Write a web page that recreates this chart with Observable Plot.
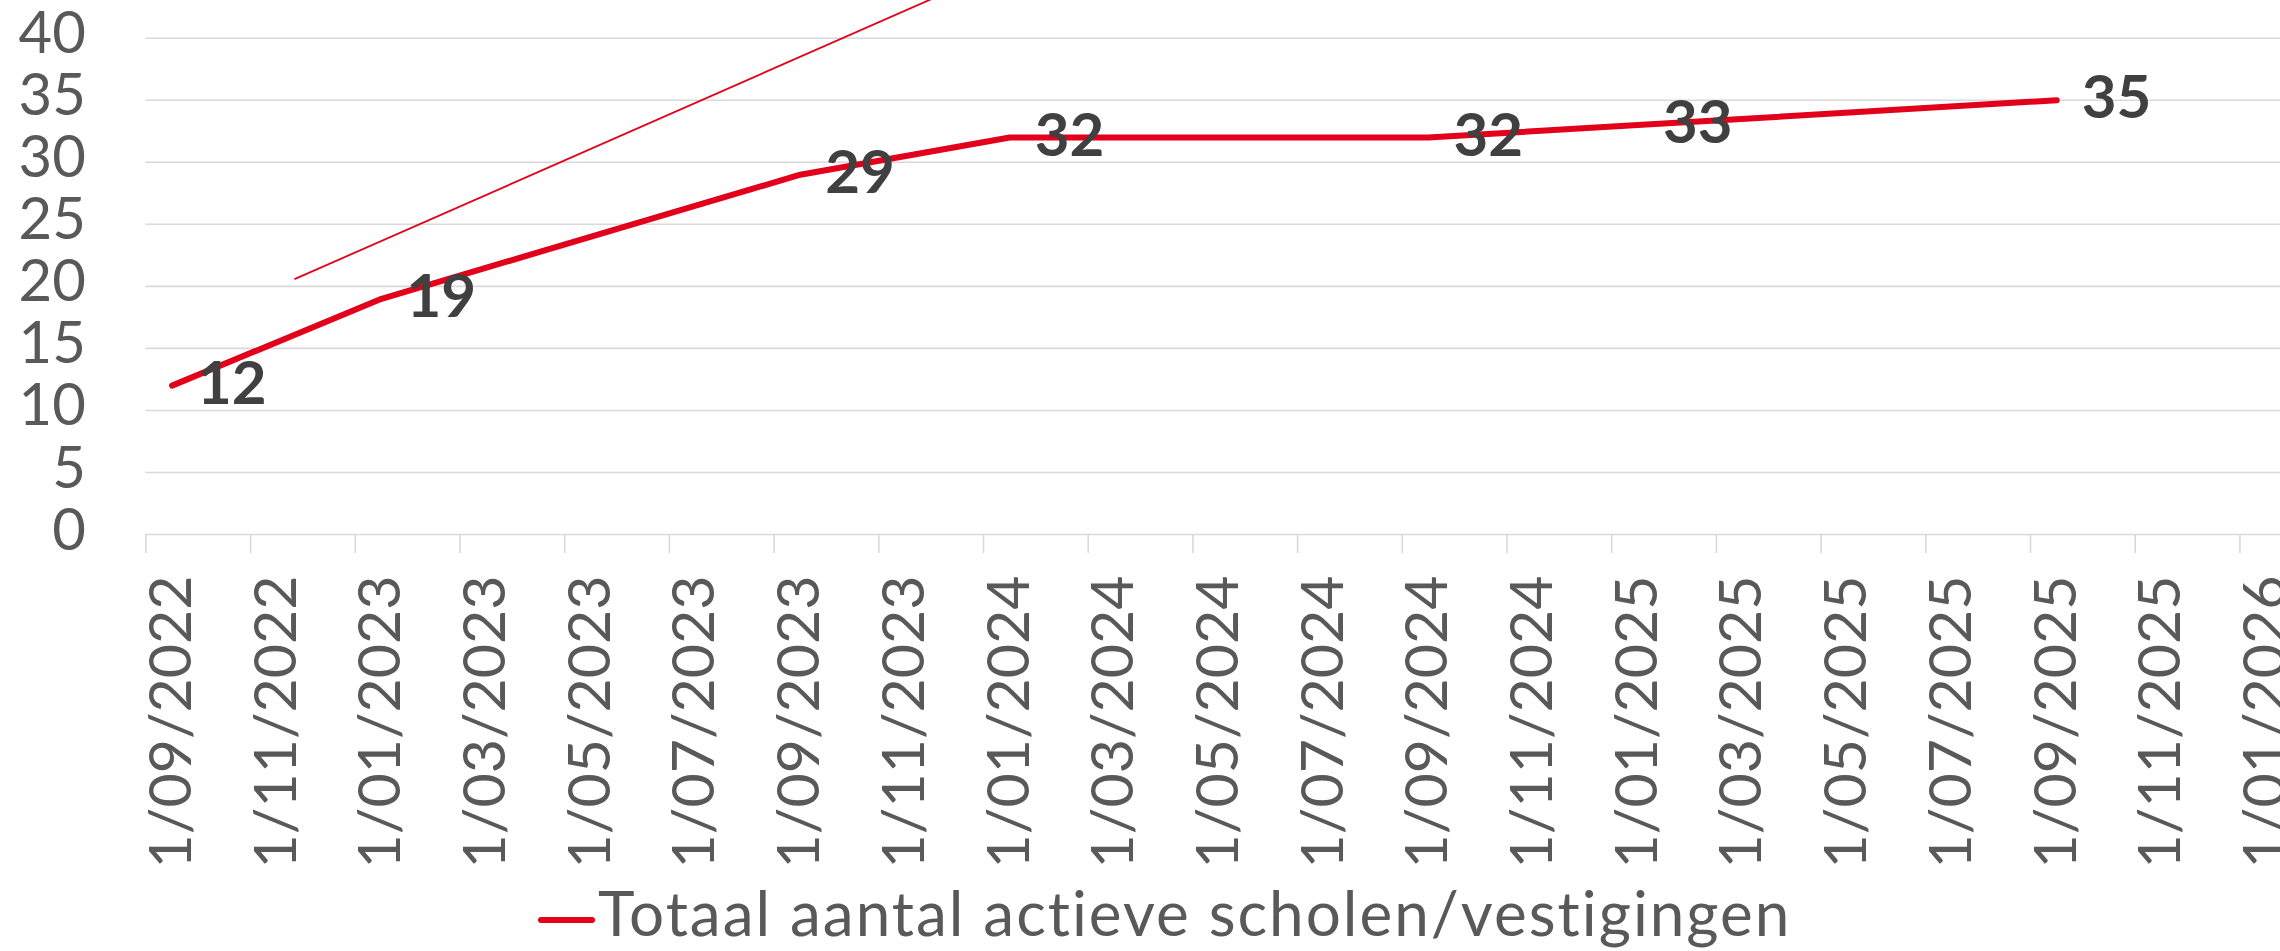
<!DOCTYPE html>
<html>
<head>
<meta charset="utf-8">
<script src="https://cdn.jsdelivr.net/npm/d3@7"></script>
<script src="https://cdn.jsdelivr.net/npm/@observablehq/plot@0.6"></script>
<style>
  html, body { margin: 0; padding: 0; background: #fff; overflow: hidden; width: 2280px; height: 951px; }
  #legend { position: relative; height: 81px; width: 2280px; font-family: Lato, sans-serif; }
  #legend .sw { position: absolute; left: 538px; top: 47px; width: 57px; height: 6px; border-radius: 3px; background: #e2001a; }
  #legend .lb { position: absolute; left: 598px; top: 11px; font-size: 62px; line-height: 1; letter-spacing: 2px; color: #595959; white-space: nowrap; }
</style>
</head>
<body>
<div id="chart"></div>
<div id="legend"><span class="sw"></span><span class="lb" id="legendText"></span></div>
<script>
// ---- data ----
const seriesName = "Totaal aantal actieve scholen/vestigingen";
const dates = ["1/09/2022", "1/01/2023", "1/09/2023", "1/01/2024", "1/09/2024", "1/01/2025", "1/09/2025"];
const values = [12, 19, 29, 32, 32, 33, 35];
const tickLabels = ["1/09/2022", "1/11/2022", "1/01/2023", "1/03/2023", "1/05/2023", "1/07/2023",
  "1/09/2023", "1/11/2023", "1/01/2024", "1/03/2024", "1/05/2024", "1/07/2024", "1/09/2024",
  "1/11/2024", "1/01/2025", "1/03/2025", "1/05/2025", "1/07/2025", "1/09/2025", "1/11/2025", "1/01/2026"];
const yTicks = [0, 5, 10, 15, 20, 25, 30, 35, 40];
// thin trend line (months after 1/09/2022, value)
const trendMonths = [2.85, 16.0];
const trendValues = [20.6, 45.0];

// ---- helpers ----
function monthIndex(s) {
  const [d, m, y] = s.split("/").map(Number);
  return (y - 2022) * 12 + (m - 9);
}
const red = "#e2001a";
const data = dates.map((d, i) => ({date: d, m: monthIndex(d) + 0.5, v: values[i]}));
const ticks = tickLabels.map(t => monthIndex(t)).concat([42]);
const labels = tickLabels.map(t => ({t, m: monthIndex(t) + 0.5}));
const trend = trendMonths.map((m, i) => ({m, v: trendValues[i]}));

const chart = Plot.plot({
  width: 2280,
  height: 870,
  marginLeft: 145.4,
  marginRight: 0,
  marginTop: 0,
  marginBottom: 336,
  style: {fontFamily: "Lato, sans-serif", fontSize: "58px", color: "#595959", background: "#fff", overflow: "hidden"},
  x: {domain: [0, 42], range: [145.4, 145.4 + 42 * 52.35], axis: null},
  y: {domain: [0, 40], range: [534, 37.7], axis: null},
  marks: [
    Plot.gridY(yTicks, {stroke: "#d9d9d9", strokeOpacity: 1, strokeWidth: 1.6}),
    Plot.axisX(ticks, {tickSize: 19, tickFormat: () => "", stroke: "#d9d9d9", strokeWidth: 1.6, label: null}),
    Plot.axisY(yTicks, {tickSize: 0, tickPadding: 60, fontSize: 58, fill: "#595959", dy: -3.5, label: null}),
    Plot.text(labels, {x: "m", frameAnchor: "bottom", text: "t", rotate: -90, textAnchor: "end",
      lineAnchor: "middle", dy: 41, fontSize: 59, fill: "#595959"}),
    Plot.line(trend, {x: "m", y: "v", stroke: red, strokeWidth: 1.8, clip: true}),
    Plot.line(data, {x: "m", y: "v", stroke: red, strokeWidth: 6, strokeLinecap: "round", strokeLinejoin: "round"}),
    Plot.text(data, {x: "m", y: "v", text: d => String(d.v), textAnchor: "start", dx: 25, dy: -1,
      fontSize: 60, fontWeight: "bold", fill: "#404040"})
  ]
});
document.getElementById("chart").appendChild(chart);
document.getElementById("legendText").textContent = seriesName;
</script>
</body>
</html>
